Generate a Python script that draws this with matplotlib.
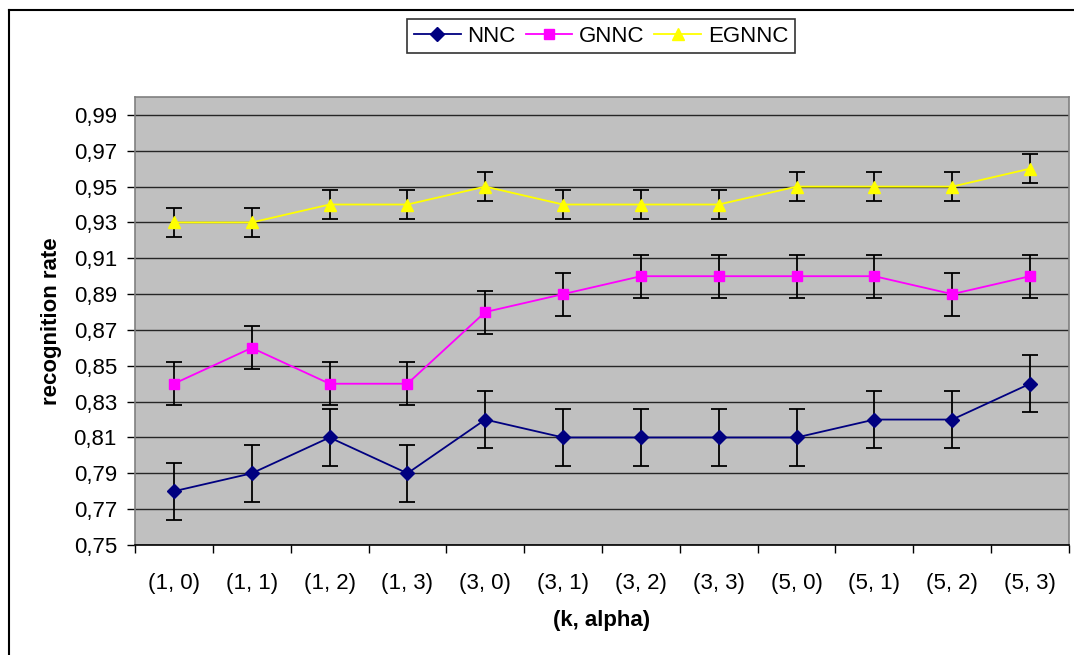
import matplotlib
matplotlib.use("Agg")
import matplotlib.pyplot as plt
from matplotlib.lines import Line2D
import numpy as np

plt.rcParams['font.family'] = ['Liberation Sans', 'DejaVu Sans']

categories = ["(1, 0)", "(1, 1)", "(1, 2)", "(1, 3)", "(3, 0)", "(3, 1)",
              "(3, 2)", "(3, 3)", "(5, 0)", "(5, 1)", "(5, 2)", "(5, 3)"]
nnc = [0.78, 0.79, 0.81, 0.79, 0.82, 0.81, 0.81, 0.81, 0.81, 0.82, 0.82, 0.84]
gnnc = [0.84, 0.86, 0.84, 0.84, 0.88, 0.89, 0.90, 0.90, 0.90, 0.90, 0.89, 0.90]
egnnc = [0.93, 0.93, 0.94, 0.94, 0.95, 0.94, 0.94, 0.94, 0.95, 0.95, 0.95, 0.96]
nnc_err = 0.016
gnnc_err = 0.012
egnnc_err = 0.008
yticks = [0.75, 0.77, 0.79, 0.81, 0.83, 0.85, 0.87, 0.89, 0.91, 0.93, 0.95, 0.97, 0.99]

fig = plt.figure(figsize=(10.74, 6.55), dpi=100)
ax = fig.add_axes([135/1074, 110/655, 934/1074, 448/655])
ax.set_facecolor('#c0c0c0')

x = np.arange(len(categories))
series = [
    ("NNC", nnc, nnc_err, '#000080', 'D', 7),
    ("GNNC", gnnc, gnnc_err, '#ff00ff', 's', 7),
    ("EGNNC", egnnc, egnnc_err, '#ffff00', '^', 9),
]
handles = []
for name, vals, err, col, mk, ms in series:
    ax.errorbar(x, vals, yerr=err, fmt='none', ecolor='black', elinewidth=1.3,
                capsize=6, capthick=1.3, zorder=3)
    h, = ax.plot(x, vals, color=col, marker=mk, markersize=ms, lw=1.3,
                 markeredgecolor=col, zorder=4, label=name)
    handles.append(h)

ax.set_xlim(-0.5, len(categories) - 0.5)
ax.set_ylim(0.75, 1.0)
ax.set_yticks(yticks)
ax.set_yticklabels([("%.2f" % v).replace('.', ',') for v in yticks])
ax.set_xticks(x)
ax.set_xticklabels(categories)
ax.set_xticks(np.arange(-0.5, len(categories)), minor=True)
ax.tick_params(axis='x', which='major', length=0, pad=20, labelsize=16)
ax.tick_params(axis='x', which='minor', length=6, width=1, color='black')
ax.tick_params(axis='y', length=6, width=1, labelsize=16, pad=7)
ax.grid(axis='y', color='#262626', lw=1)
ax.set_axisbelow(True)
for s in ax.spines.values():
    s.set_color('#808080')
    s.set_linewidth(1.2)
ax.spines['bottom'].set_color('black')

ax.set_xlabel("(k, alpha)", fontsize=16, fontweight='bold', labelpad=12)
ax.set_ylabel("recognition rate", fontsize=16, fontweight='bold', labelpad=8)

leg = fig.legend(handles=handles, loc='center', bbox_to_anchor=(601/1074, 1 - 36/655),
                 ncol=3, frameon=True, fancybox=False, fontsize=16,
                 handlelength=2.1, handletextpad=0.3, columnspacing=0.45,
                 borderpad=0.3, edgecolor='black')
leg.get_frame().set_linewidth(1.2)

# outer chart border (cropped at right and bottom)
fig.add_artist(Line2D([9/1074, 9/1074], [0, 1 - 10/655], color='black', lw=1.5,
                      transform=fig.transFigure))
fig.add_artist(Line2D([9/1074, 1], [1 - 10/655, 1 - 10/655], color='black', lw=1.5,
                      transform=fig.transFigure))

fig.savefig("out.png", dpi=100)
